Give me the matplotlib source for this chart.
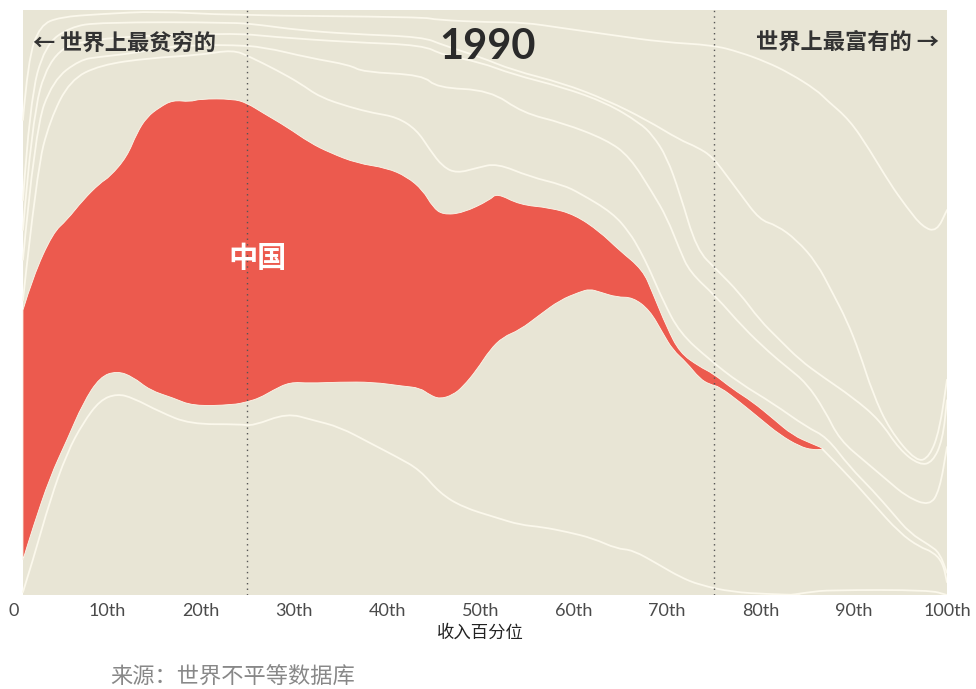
import matplotlib
matplotlib.use("Agg")
import matplotlib.pyplot as plt
from matplotlib.path import Path
from matplotlib.patches import PathPatch

# ---------------- data (income percentile x, share of population 0-100 y) ----------------
china_top_x = [0.96, 2.04, 4.18, 5.68, 7.39, 9.21, 10.29, 12.11, 13.18, 14.25, 15.64, 17.04, 18.86, 19.93,
               23.46, 24.96, 26.68, 29.25, 31.71, 33.86, 36.75, 39.96, 42.11, 43.82, 44.89, 45.96, 48.11,
               51.0, 51.75, 54.21, 57.43, 60.11, 62.79, 64.82, 67.39, 68.46, 69.96, 71.36, 73.5, 74.89,
               77.04, 79.18, 81.32, 83.46, 85.61, 86.68]
china_top_y = [48.7, 54.4, 61.9, 64.1, 67.5, 70.4, 71.5, 74.9, 79.0, 81.7, 83.4, 84.6, 84.3, 84.8,
               84.8, 84.1, 82.4, 80.0, 77.3, 75.6, 73.8, 73.0, 71.5, 69.2, 66.3, 65.0, 65.3,
               67.5, 68.7, 66.7, 66.2, 65.0, 62.1, 59.0, 55.6, 51.6, 45.8, 41.4, 39.0, 37.9,
               35.2, 33.0, 30.2, 27.3, 25.8, 25.1]
china_bot_x = [0.96, 2.04, 3.86, 5.68, 7.39, 9.21, 11.04, 12.75, 14.57, 17.04, 19.18, 23.46, 24.96, 26.36,
               27.75, 29.57, 31.71, 34.93, 38.46, 41.68, 43.5, 44.57, 45.64, 47.04, 48.11, 49.61, 51.0,
               52.39, 54.21, 56.36, 58.5, 60.64, 61.71, 62.79, 64.61, 66.32, 68.14, 69.54, 70.61, 72.11,
               73.5, 74.57, 75.64, 77.79, 79.93, 82.07, 84.21, 85.61, 86.68]
china_bot_y = [6.0, 11.6, 20.2, 26.5, 32.8, 37.3, 38.3, 37.3, 35.0, 33.7, 32.3, 32.5, 33.0, 33.7,
               35.0, 36.4, 36.2, 36.4, 36.4, 35.7, 35.4, 34.2, 33.5, 34.2, 35.6, 38.5, 41.9,
               44.1, 45.3, 47.9, 50.4, 51.8, 52.3, 51.8, 50.9, 50.9, 48.7, 44.8, 41.9, 39.7,
               37.0, 36.0, 35.6, 33.0, 30.2, 27.4, 25.4, 24.8, 24.9]

# other country boundaries (white lines)
line_t1_x = [0.96, 1.5, 2.79, 4.93, 9.21, 15.32, 23.14, 43.82, 45.32, 51.0, 54.54, 58.82, 64.18, 69.54,
             74.89, 77.79, 80.68, 83.14, 86.04, 87.11, 89.57, 91.71, 93.86, 95.68, 97.39, 98.89, 100]
line_t1_y = [81.2, 91.5, 97.4, 98.8, 99.3, 99.8, 99.1, 98.8, 98.3, 97.9, 97.9, 96.9, 95.7, 94.5,
             94.0, 92.8, 91.1, 89.2, 86.3, 84.6, 81.2, 76.1, 70.4, 66.3, 62.9, 62.1, 65.8]
line_t2_x = [0.96, 1.71, 3.32, 6.0, 9.21, 23.46, 26.68, 30.32, 36.0, 43.82, 45.96, 49.93, 53.46, 58.82,
             63.54, 67.82, 71.36, 73.18, 74.89, 76.71, 77.79, 79.93, 81.75, 83.89, 86.04, 87.75, 89.25,
             90.64, 92.04, 93.86, 96.75, 98.14, 99.21, 100]
line_t2_y = [67.5, 84.6, 94.0, 97.1, 97.9, 97.9, 97.4, 96.6, 95.9, 95.4, 94.0, 92.0, 89.7, 87.5,
             84.6, 81.2, 77.8, 76.6, 74.9, 71.0, 68.7, 64.1, 63.2, 60.7, 56.8, 51.6, 47.0,
             41.4, 34.5, 28.2, 22.7, 23.6, 28.2, 36.8]
line_t3_x = [0.96, 1.93, 3.64, 7.07, 23.46, 27.75, 36.0, 43.82, 45.96, 49.93, 53.46, 58.82, 63.54,
             67.07, 68.46, 69.96, 71.36, 73.18, 75.32, 77.79, 79.93, 82.07, 84.21, 86.68, 89.89,
             92.79, 94.93, 97.07, 98.46, 99.54, 100]
line_t3_y = [62.4, 81.2, 91.5, 95.2, 96.1, 95.4, 94.5, 94.0, 92.3, 91.1, 89.0, 86.8, 84.1,
             80.7, 78.6, 74.9, 68.7, 59.0, 55.6, 51.6, 47.0, 43.6, 40.2, 37.3, 33.8,
             29.9, 24.8, 22.2, 22.7, 26.5, 33.3]
line_t4_x = [0.96, 2.25, 4.18, 7.07, 9.21, 12.75, 16.39, 19.93, 23.46, 26.68, 31.71, 36.0, 37.39,
             43.82, 45.32, 51.0, 54.54, 58.82, 63.54, 66.0, 68.46, 69.96, 71.36, 72.43, 75.32, 78.11,
             81.0, 82.82, 84.96, 86.89, 88.5, 91.39, 93.54, 95.68, 98.14, 99.21, 100]
line_t4_y = [57.3, 79.5, 88.0, 91.5, 92.0, 92.6, 93.7, 94.0, 94.0, 93.7, 91.8, 90.6, 89.4,
             88.9, 86.7, 86.3, 82.4, 80.7, 77.8, 74.9, 68.7, 64.6, 59.0, 55.2, 50.9, 45.8,
             41.4, 39.0, 36.2, 31.6, 26.5, 22.6, 19.7, 16.8, 15.2, 17.9, 25.3]
line_t5_x = [0.96, 2.46, 3.86, 6.0, 9.21, 14.57, 19.93, 23.46, 25.29, 28.18, 30.64, 32.79, 36.0, 38.46,
             41.04, 43.18, 44.57, 45.96, 47.46, 49.61, 51.75, 55.29, 58.82, 60.64, 64.18, 66.0, 67.07,
             68.14, 69.54, 71.36, 74.57, 77.79, 81.32, 84.96, 87.11, 89.57, 92.04, 94.18, 96.0, 98.14,
             99.21, 100]
line_t5_y = [50.4, 72.6, 81.2, 88.0, 90.6, 91.8, 92.3, 93.2, 92.0, 89.7, 87.5, 85.1, 83.4, 82.4,
             81.7, 79.5, 76.1, 73.2, 72.1, 73.0, 73.8, 71.5, 70.1, 68.7, 65.3, 61.9, 59.0,
             55.6, 50.4, 44.8, 40.2, 36.2, 32.8, 28.7, 27.0, 21.9, 17.9, 14.0, 10.6, 8.5,
             7.2, 3.8]
line_r1_x = [86.68, 89.57, 92.04, 94.93, 97.07, 98.46, 99.54, 100]
line_r1_y = [24.9, 20.2, 15.7, 10.6, 8.2, 7.4, 5.6, 2.2]
line_a_x = [0.96, 2.04, 3.86, 5.68, 7.39, 9.21, 11.04, 12.75, 15.64, 18.86, 24.21, 25.61, 29.25, 32.04,
            34.93, 38.14, 41.04, 43.5, 45.64, 48.11, 51.75, 54.21, 56.68, 59.25, 62.04, 64.61, 66.32,
            69.21, 71.36, 73.5, 77.04, 80.68, 84.21]
line_a_y = [0.5, 6.0, 16.2, 24.3, 29.4, 33.3, 34.4, 33.7, 31.3, 29.2, 29.2, 28.9, 31.1, 29.9,
            28.7, 26.0, 23.6, 21.4, 17.4, 15.0, 13.2, 12.0, 11.6, 10.8, 9.7, 7.9, 7.7,
            5.1, 3.1, 1.7, 0.5, 0.17, 0.0]
line_b_x = [83.14, 85.29, 87.43, 98.14, 100]
line_b_y = [0.0, 0.5, 0.85, 0.85, 0.0]

data_x_range = [0.96, 100]
tick_values = [0, 10, 20, 30, 40, 50, 60, 70, 80, 90, 100]
tick_labels = ["0", "10th", "20th", "30th", "40th", "50th", "60th", "70th", "80th", "90th", "100th"]
quartile_marks = [25, 75]

# ---------------- drawing ----------------
BG = "#e8e5d5"
RED = "#ec5a4e"
LINE = "#fbf8ec"
CJK = ["Noto Sans CJK SC", "DejaVu Sans"]


def smooth_path(xs, ys, closed=False):
    """Quadratic B-spline style path (like d3 curveBasis) through the given vertices."""
    pts = list(zip(xs, ys))
    verts = [pts[0]]
    codes = [Path.MOVETO]
    for i in range(1, len(pts) - 1):
        mid = ((pts[i][0] + pts[i + 1][0]) / 2.0, (pts[i][1] + pts[i + 1][1]) / 2.0)
        verts += [pts[i], mid]
        codes += [Path.CURVE3, Path.CURVE3]
    verts.append(pts[-1])
    codes.append(Path.LINETO)
    if closed:
        verts.append(pts[0])
        codes.append(Path.CLOSEPOLY)
    return Path(verts, codes)


fig = plt.figure(figsize=(9.76, 6.89), dpi=100)
ax = fig.add_axes([0.01434, 0.13643, 0.9559, 0.84906])
ax.set_xlim(0, 100)
ax.set_ylim(0, 100)
ax.set_facecolor("white")
for s in ax.spines.values():
    s.set_visible(False)

ax.fill_between(data_x_range, 0, 100, color=BG, lw=0, zorder=0)

for lx, ly in [(line_t1_x, line_t1_y), (line_t2_x, line_t2_y), (line_t3_x, line_t3_y),
               (line_t4_x, line_t4_y), (line_t5_x, line_t5_y), (line_r1_x, line_r1_y),
               (line_a_x, line_a_y), (line_b_x, line_b_y)]:
    ax.add_patch(PathPatch(smooth_path(lx, ly), fc="none", ec=LINE, lw=1.3, zorder=2,
                           capstyle="round", joinstyle="round"))

poly_x = china_top_x + china_bot_x[::-1]
poly_y = china_top_y + china_bot_y[::-1]
ax.add_patch(PathPatch(smooth_path(poly_x, poly_y, closed=True), fc=RED, ec=LINE, lw=0.6, zorder=3))

for q in quartile_marks:
    ax.axvline(q, color="#555555", lw=1.0, ls=(0, (1, 3)), zorder=4)

ax.set_xticks(tick_values)
ax.set_xticklabels(tick_labels, fontsize=13, color="#4a4a4a", family="Lato")
ax.tick_params(axis="x", length=0, pad=6)
ax.set_yticks([])
ax.set_xlabel("收入百分位", family=CJK, fontsize=12.5, color="#222222", labelpad=3)

ax.text(2.0, 94.4, "← 世界上最贫穷的", family=CJK, fontsize=16, fontweight="bold",
        color="#333333", ha="left", va="center", zorder=5)
ax.text(99.2, 94.4, "世界上最富有的 →", family=CJK, fontsize=16, fontweight="bold",
        color="#333333", ha="right", va="center", zorder=5)
ax.text(50.8, 93.6, "1990", family=["Lato", "DejaVu Sans"], fontsize=30, fontweight="bold",
        color="#2a2a2a", ha="center", va="center", zorder=5)
ax.text(26.1, 57.6, "中国", family=CJK, fontsize=21, fontweight="bold",
        color="white", ha="center", va="center", zorder=5)

fig.text(110 / 976, 1 - 677 / 689, "来源：世界不平等数据库", family=CJK, fontsize=16,
         color="#888888", ha="left", va="center")

fig.savefig("out.png", dpi=100, facecolor="white")
